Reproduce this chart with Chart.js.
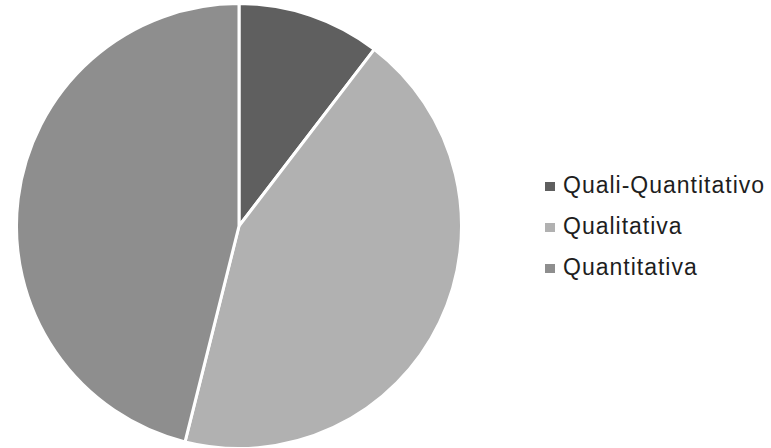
<!DOCTYPE html>
<html>
<head>
<meta charset="utf-8">
<script src="https://cdn.jsdelivr.net/npm/chart.js@4/dist/chart.umd.min.js"></script>
<style>
  html, body { margin: 0; padding: 0; background: #fff; width: 771px; height: 448px; overflow: hidden; }
  #wrap { position: absolute; left: 15px; top: 2px; width: 448px; height: 448px; }
  #legend { position: absolute; left: 545px; top: 172px; font-family: "Liberation Sans", Arial, sans-serif; font-size: 23px; letter-spacing: 1px; color: #1e1e1e; }
  .item { height: 41px; line-height: 26px; display: flex; align-items: flex-start; white-space: nowrap; }
  .box { width: 10px; height: 9px; margin: 10px 8px 0 0; flex: none; }
</style>
</head>
<body>
<div id="wrap"><canvas id="pie"></canvas></div>
<div id="legend"></div>
<script>
// categories and shares (%)
const categories = ['Quali-Quantitativo', 'Qualitativa', 'Quantitativa'];
const values = [10.4, 43.5, 46.1];
const colors = ['#5f5f5f', '#b1b1b1', '#8e8e8e'];

const chart = new Chart(document.getElementById('pie'), {
    type: 'pie',
    data: {
        labels: categories,
        datasets: [{
            data: values,
            backgroundColor: colors,
            borderColor: '#ffffff',
            borderWidth: 3
        }]
    },
    options: {
        responsive: true,
        maintainAspectRatio: false,
        animation: false,
        plugins: {
            legend: { display: false },
            tooltip: { enabled: false }
        }
    }
});

// legend
const legend = document.getElementById('legend');
categories.forEach(function(name, i) {
    const row = document.createElement('div');
    row.className = 'item';
    const box = document.createElement('span');
    box.className = 'box';
    box.style.background = colors[i];
    const txt = document.createElement('span');
    txt.textContent = name;
    row.appendChild(box);
    row.appendChild(txt);
    legend.appendChild(row);
});
</script>
</body>
</html>
